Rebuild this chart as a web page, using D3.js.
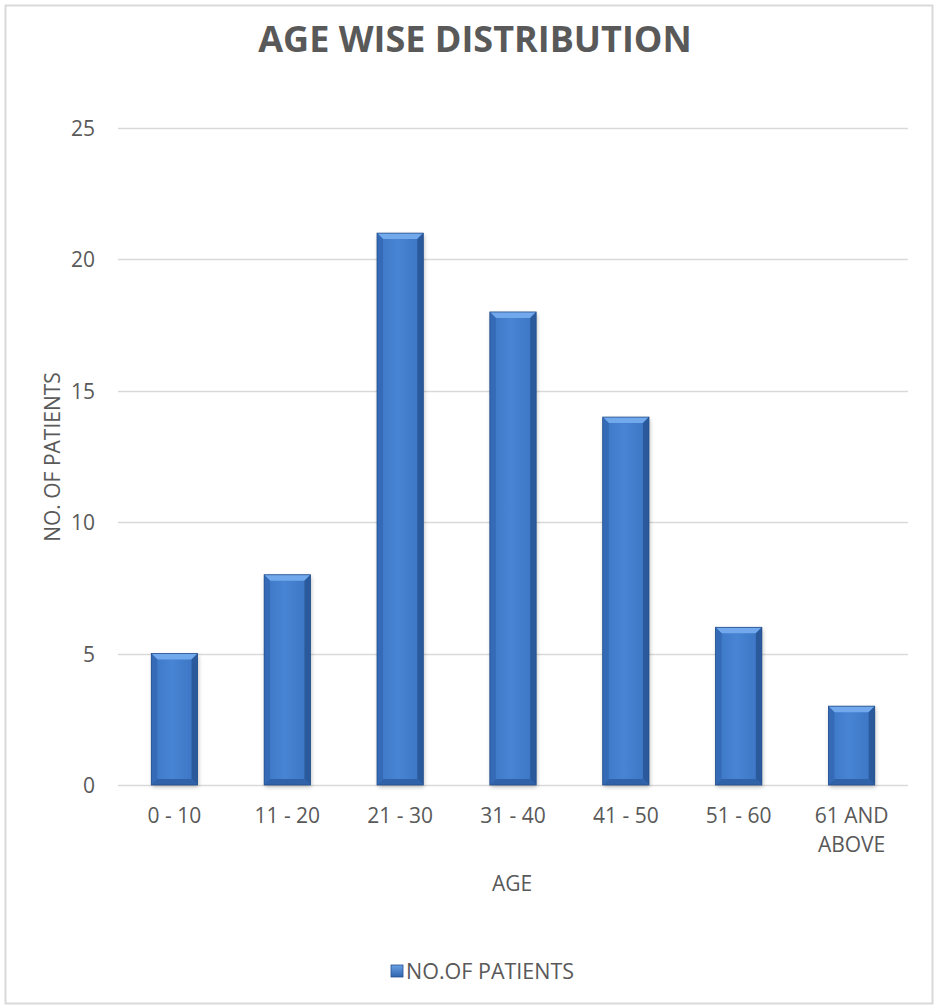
<!DOCTYPE html>
<html>
<head>
<meta charset="utf-8">
<script src="https://cdn.jsdelivr.net/npm/d3@7"></script>
<style>
  body { margin: 0; background: #fff; }
  text { font-family: "Open Sans", "Liberation Sans", sans-serif; fill: #595959; }
</style>
</head>
<body>
<svg width="935" height="1006"></svg>
<script>
var categories = ["0 - 10", "11 - 20", "21 - 30", "31 - 40", "41 - 50", "51 - 60", "61 AND ABOVE"];
var patients = [5, 8, 21, 18, 14, 6, 3];
var yTicks = [0, 5, 10, 15, 20, 25];

var svg = d3.select("svg"),
  width = +svg.attr("width"),
  height = +svg.attr("height");

var margin = { left: 118, right: 27, top: 128, bottom: 221 };

// chart frame
svg.append("rect")
  .attr("x", 5.5).attr("y", 5.5)
  .attr("width", width - 8).attr("height", height - 8)
  .attr("fill", "#fff")
  .attr("stroke", "#d9d9d9")
  .attr("stroke-width", 2);

var defs = svg.append("defs");
var grad = defs.append("linearGradient").attr("id", "legendGrad")
  .attr("x1", 0).attr("y1", 0).attr("x2", 0).attr("y2", 1);
grad.append("stop").attr("offset", "0%").attr("stop-color", "#6aa1e6");
grad.append("stop").attr("offset", "100%").attr("stop-color", "#2f65ad");

var face = defs.append("linearGradient").attr("id", "faceGrad")
  .attr("x1", 0).attr("y1", 0).attr("x2", 1).attr("y2", 0);
face.append("stop").attr("offset", "0%").attr("stop-color", "#3d77c6");
face.append("stop").attr("offset", "45%").attr("stop-color", "#4784d3");
face.append("stop").attr("offset", "100%").attr("stop-color", "#3b74c2");

var blur = defs.append("filter").attr("id", "shadow")
  .attr("x", "-20%").attr("y", "-5%").attr("width", "140%").attr("height", "115%");
blur.append("feGaussianBlur").attr("stdDeviation", 2);

var x = d3.scaleBand()
  .domain(categories)
  .range([margin.left, width - margin.right])
  .paddingInner(0.59)
  .paddingOuter(0.295);

var y = d3.scaleLinear()
  .domain([0, 25])
  .range([height - margin.bottom, margin.top]);

// gridlines
svg.append("g")
  .selectAll("line")
  .data(yTicks)
  .enter()
  .append("line")
  .attr("x1", margin.left)
  .attr("x2", width - margin.right)
  .attr("y1", function (d) { return Math.round(y(d)) + 0.5; })
  .attr("y2", function (d) { return Math.round(y(d)) + 0.5; })
  .attr("stroke", "#d9d9d9")
  .attr("stroke-width", 1.3);

// y tick labels
svg.append("g")
  .selectAll("text")
  .data(yTicks)
  .enter()
  .append("text")
  .attr("x", 95)
  .attr("y", function (d) { return y(d); })
  .attr("text-anchor", "end")
  .attr("dominant-baseline", "central")
  .attr("font-size", 21)
  .text(function (d) { return d; });

// bars with a bevel look
var bev = 6;
var bars = svg.append("g")
  .selectAll("g")
  .data(categories)
  .enter()
  .append("g");

// soft shadow
bars.append("rect")
  .attr("x", function (d) { return x(d) + 1; })
  .attr("y", function (d, i) { return y(patients[i]) + 2; })
  .attr("width", x.bandwidth())
  .attr("height", function (d, i) { return y(0) - y(patients[i]); })
  .attr("fill", "#000")
  .attr("opacity", 0.25)
  .attr("filter", "url(#shadow)");

bars.append("rect")
  .attr("x", function (d) { return x(d); })
  .attr("y", function (d, i) { return y(patients[i]); })
  .attr("width", x.bandwidth())
  .attr("height", function (d, i) { return y(0) - y(patients[i]); })
  .attr("fill", "url(#faceGrad)");

// top bevel
bars.append("path")
  .attr("d", function (d, i) {
    var x0 = x(d), x1 = x(d) + x.bandwidth(), t = y(patients[i]);
    return "M" + x0 + "," + t + "L" + x1 + "," + t + "L" + (x1 - bev) + "," + (t + bev) +
      "L" + (x0 + bev) + "," + (t + bev) + "Z";
  })
  .attr("fill", "#72a8ec");

// side bevels
bars.append("path")
  .attr("d", function (d, i) {
    var x0 = x(d), t = y(patients[i]), b = y(0);
    return "M" + x0 + "," + t + "L" + (x0 + bev) + "," + (t + bev) + "L" + (x0 + bev) + "," + (b - bev) +
      "L" + x0 + "," + b + "Z";
  })
  .attr("fill", "#356bb6");
bars.append("path")
  .attr("d", function (d, i) {
    var x1 = x(d) + x.bandwidth(), t = y(patients[i]), b = y(0);
    return "M" + x1 + "," + t + "L" + (x1 - bev) + "," + (t + bev) + "L" + (x1 - bev) + "," + (b - bev) +
      "L" + x1 + "," + b + "Z";
  })
  .attr("fill", "#2a5a9c");
bars.append("path")
  .attr("d", function (d, i) {
    var x0 = x(d), x1 = x(d) + x.bandwidth(), b = y(0);
    return "M" + x0 + "," + b + "L" + x1 + "," + b + "L" + (x1 - bev) + "," + (b - bev) +
      "L" + (x0 + bev) + "," + (b - bev) + "Z";
  })
  .attr("fill", "#2f62a8");
bars.append("rect")
  .attr("x", function (d) { return x(d); })
  .attr("y", function (d, i) { return y(patients[i]); })
  .attr("width", x.bandwidth())
  .attr("height", function (d, i) { return y(0) - y(patients[i]); })
  .attr("fill", "none")
  .attr("stroke", "#244f8c")
  .attr("stroke-width", 0.8);

// x tick labels
var xl = svg.append("g")
  .selectAll("text")
  .data(categories)
  .enter()
  .append("text")
  .attr("text-anchor", "middle")
  .attr("font-size", 21)
  .attr("x", function (d) { return x(d) + x.bandwidth() / 2; })
  .attr("y", 823);
xl.each(function (d) {
  var t = d3.select(this);
  if (d === "61 AND ABOVE") {
    t.append("tspan").attr("x", x(d) + x.bandwidth() / 2).attr("dy", 0).text("61 AND");
    t.append("tspan").attr("x", x(d) + x.bandwidth() / 2).attr("dy", 29).text("ABOVE");
  } else {
    t.text(d);
  }
});

// title
svg.append("text")
  .attr("x", 475)
  .attr("y", 52)
  .attr("text-anchor", "middle")
  .attr("font-size", 36)
  .attr("font-weight", "bold")
  .text("AGE WISE DISTRIBUTION");

// axis titles
svg.append("text")
  .attr("x", 512)
  .attr("y", 891)
  .attr("text-anchor", "middle")
  .attr("font-size", 21)
  .text("AGE");

svg.append("text")
  .attr("transform", "translate(60," + 457 + ") rotate(-90)")
  .attr("text-anchor", "middle")
  .attr("font-size", 21)
  .text("NO. OF PATIENTS");

// legend
svg.append("rect")
  .attr("x", 391).attr("y", 965)
  .attr("width", 12).attr("height", 12)
  .attr("fill", "url(#legendGrad)")
  .attr("stroke", "#24518f")
  .attr("stroke-width", 0.8);
svg.append("text")
  .attr("x", 406)
  .attr("y", 979)
  .attr("font-size", 21.5)
  .text("NO.OF PATIENTS");
</script>
</body>
</html>
